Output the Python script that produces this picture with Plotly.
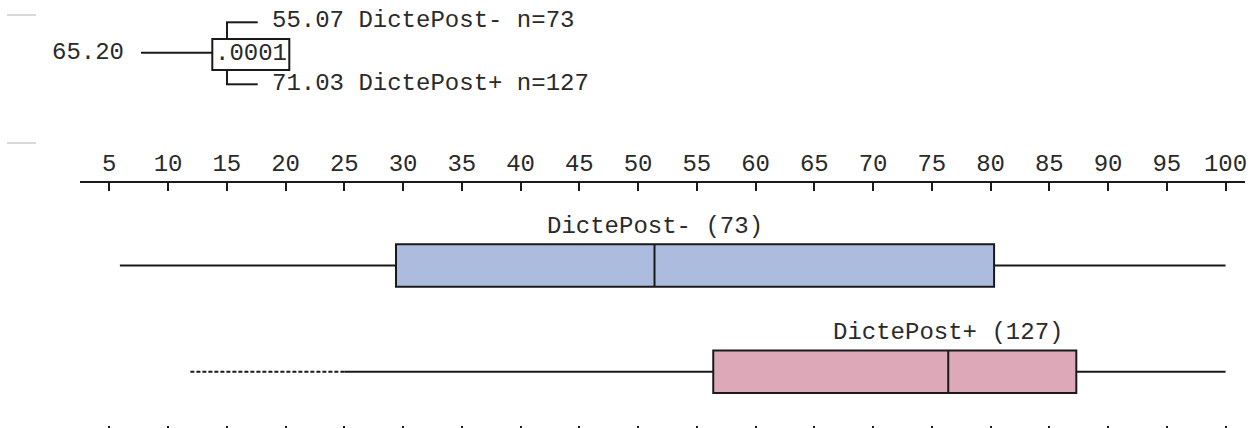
import plotly.graph_objects as go

# ---------------- data ----------------
groups = ["DictePost-", "DictePost+"]
counts = [73, 127]
group_means = [55.07, 71.03]
overall_mean = 65.20
p_value = ".0001"
lower_fence = [5.9, 25.0]
q1 = [29.4, 56.4]
median = [51.4, 76.4]
q3 = [80.3, 87.3]
upper_fence = [100.0, 100.0]
lower_extreme = [None, 11.9]   # dashed extension of lower whisker
tick_vals = list(range(5, 101, 5))
tick_text = [str(v) for v in tick_vals]

# ---------------- layout helpers ----------------
W, H = 1255, 428
FONT = "Courier New, Liberation Mono, monospace"
TXT = "#2a2a2a"
LINE = "#1a1a1a"
fills = ["#abbcde", "#dda9b9"]
box_center = [265.5, 371.7]   # pixel rows (y axis is pixel mapped)
box_height = 42.5

def PX(x):
    return x / W

def PY(y):
    return 1 - y / H

fig = go.Figure()

for i, g in enumerate(groups):
    fig.add_trace(go.Box(
        y=[box_center[i]], orientation="h",
        q1=[q1[i]], median=[median[i]], q3=[q3[i]],
        lowerfence=[lower_fence[i]], upperfence=[upper_fence[i]],
        width=box_height, fillcolor=fills[i],
        line=dict(color=LINE, width=2), whiskerwidth=0,
        boxpoints=False, hoverinfo="skip", name=g,
    ))
    if lower_extreme[i] is not None:
        fig.add_trace(go.Scatter(
            x=[lower_extreme[i], lower_fence[i]], y=[box_center[i]] * 2,
            mode="lines", line=dict(color=LINE, width=2, dash="4px,2px"),
            hoverinfo="skip",
        ))
    fig.add_annotation(
        x=median[i], y=box_center[i] - box_height / 2 - 18, xref="x", yref="y",
        text=f"{g} ({counts[i]})", showarrow=False,
        font=dict(family=FONT, size=24, color=TXT), xanchor="center", yanchor="middle",
    )

# invisible trace for bottom tick axis
fig.add_trace(go.Scatter(x=[tick_vals[0]], y=[0], xaxis="x2", yaxis="y",
                         mode="markers", marker=dict(opacity=0), hoverinfo="skip"))

# axis mapping: px 80 -> 2.506, px 1245 -> 101.655
x0_px, x1_px = 80, 1245
ppu = 11.75
v_at = lambda px: 5 + (px - 109.3) / ppu
xr = [v_at(x0_px), v_at(x1_px)]
dom = [x0_px / W, x1_px / W]

fig.update_layout(
    width=W, height=H, margin=dict(l=0, r=0, t=0, b=0, autoexpand=False),
    paper_bgcolor="white", plot_bgcolor="white", showlegend=False,
    xaxis=dict(
        domain=dom, range=xr, side="top", anchor="free", position=PY(182),
        tickvals=tick_vals, ticktext=tick_text, ticks="inside", ticklen=8,
        tickwidth=1.5, tickcolor=LINE, showline=True, linecolor=LINE, linewidth=2,
        showgrid=False, zeroline=False, automargin=False,
        tickfont=dict(family=FONT, size=24, color=TXT),
    ),
    xaxis2=dict(
        domain=dom, range=xr, overlaying="x", side="bottom", anchor="free",
        position=PY(425), tickvals=tick_vals, ticks="outside", ticklen=8,
        tickwidth=1.5, tickcolor=LINE, showline=False, showticklabels=False,
        showgrid=False, zeroline=False, automargin=False,
    ),
    yaxis=dict(range=[H, 0], domain=[0, 1], visible=False, showgrid=False,
               automargin=False),
)

# ---------------- top tree (split summary) ----------------
shapes = []
lw = 2
def seg(x0, y0, x1, y1, color=LINE, width=lw):
    shapes.append(dict(type="line", xref="paper", yref="paper",
                       x0=PX(x0), y0=PY(y0), x1=PX(x1), y1=PY(y1),
                       line=dict(color=color, width=width)))

seg(141, 52.7, 212, 52.7)
shapes.append(dict(type="rect", xref="paper", yref="paper",
                   x0=PX(212.3), y0=PY(39), x1=PX(289.3), y1=PY(70),
                   line=dict(color=LINE, width=lw), fillcolor="rgba(0,0,0,0)"))
seg(227, 39, 227, 22.3)
seg(226, 22.3, 257.7, 22.3)
seg(227, 70, 227, 84.3)
seg(226, 84.3, 257.7, 84.3)
seg(7, 15, 36, 15, color="#cccccc", width=1.5)
seg(7, 143, 36, 143, color="#cccccc", width=1.5)
fig.update_layout(shapes=shapes)

def txt(x, y, s, anchor="left"):
    fig.add_annotation(x=PX(x), y=PY(y), xref="paper", yref="paper", text=s,
                       showarrow=False, xanchor=anchor, yanchor="middle",
                       font=dict(family=FONT, size=24, color=TXT), borderpad=0, borderwidth=0)

txt(52, 52, f"{overall_mean:.2f}")
txt(250.8, 53, p_value, anchor="center")
txt(272, 20, f"{group_means[0]:.2f} {groups[0]} n={counts[0]}")
txt(272, 83, f"{group_means[1]:.2f} {groups[1]} n={counts[1]}")

fig.write_html("out.html", config={"displayModeBar": False},
               post_script="document.body.style.margin='0';document.body.style.overflow='hidden';")
